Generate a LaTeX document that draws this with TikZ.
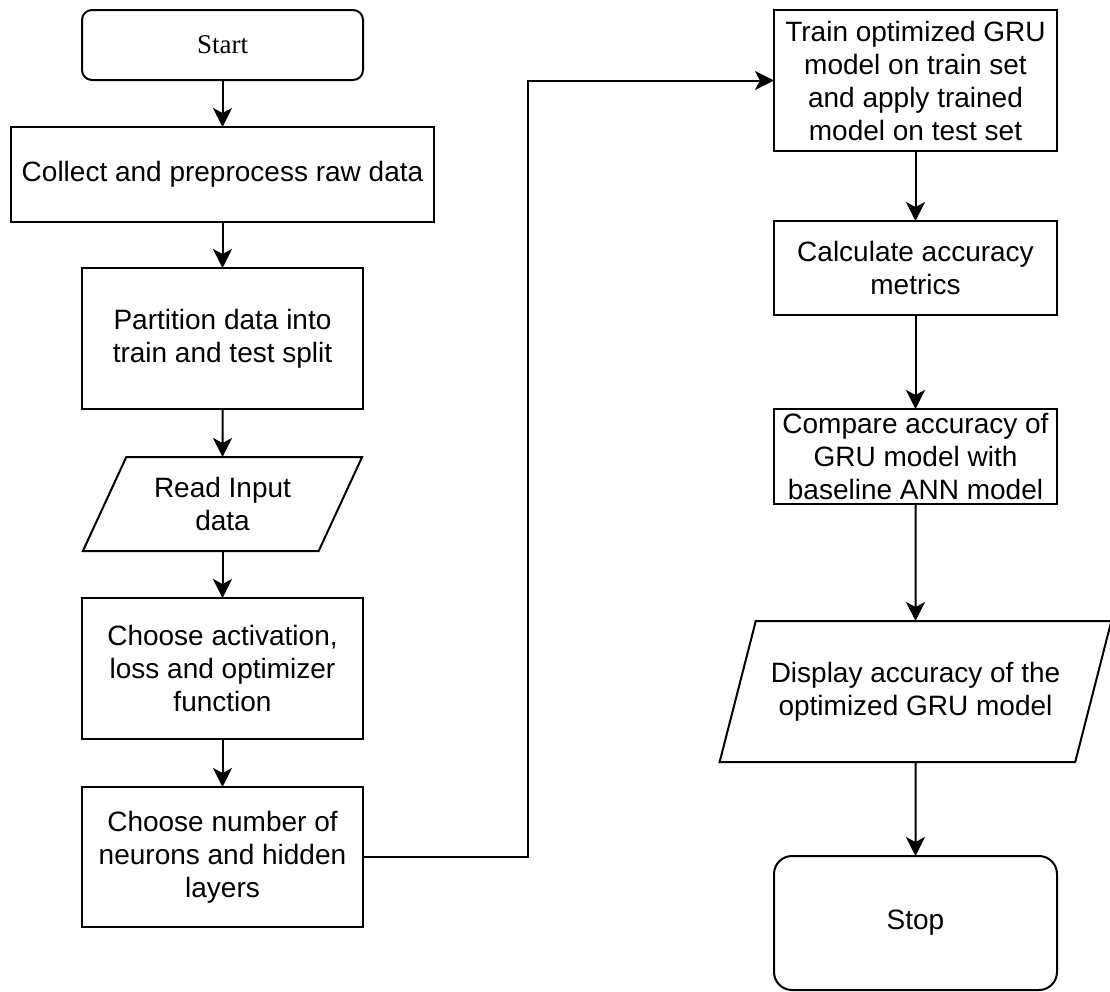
\documentclass[tikz,border=0pt]{standalone}
\usepackage{fontspec}
\setmainfont{Liberation Sans}
\newfontfamily\serifstart{Liberation Serif}
\usetikzlibrary{shapes.geometric, arrows.meta, positioning}

\begin{document}
\begin{tikzpicture}[x=0.5pt, y=-0.5pt,
    box/.style={draw, line width=1pt, align=center, inner sep=0pt, outer sep=0pt,
        font=\fontsize{14}{16.5}\selectfont},
    term/.style={box, rounded corners=5pt},
    io/.style={box, trapezium, trapezium stretches=true,
        trapezium left angle=60, trapezium right angle=120},
    seta/.style={-{Stealth[length=9.5pt, width=9.5pt, inset=2.5pt]}, line width=1pt}]
    \useasboundingbox (0,0) rectangle (1110,992);

    % Coluna esquerda
    \node[term, minimum width=140.5pt, minimum height=35pt,
        font=\fontsize{13.5}{16}\serifstart] (Start) at (222.5,45) {Start};
    \node[box, minimum width=211.5pt, minimum height=47.5pt] (Collect) at (222.5,174.5)
        {Collect and preprocess raw data};
    \node[box, minimum width=140.5pt, minimum height=70.5pt] (Split) at (222.5,338.5)
        {Partition data into\\train and test split};
    \node[io, minimum width=140.5pt, minimum height=47pt] (Input) at (222.5,504)
        {Read Input\\data};
    \node[box, minimum width=140.5pt, minimum height=70.5pt] (Act) at (222.5,668.5)
        {Choose activation,\\loss and optimizer\\function};
    \node[box, minimum width=140.5pt, minimum height=70pt] (Neur) at (222.5,857)
        {Choose number of\\neurons and hidden\\layers};

    % Coluna direita
    \node[box, minimum width=141.5pt, minimum height=70.5pt] (Train) at (915.5,80.5)
        {Train optimized GRU\\model on train set\\and apply trained\\model on test set};
    \node[box, minimum width=141.5pt, minimum height=47pt] (Calc) at (915.5,268)
        {Calculate accuracy\\metrics};
    \node[box, minimum width=141.5pt, minimum height=47.5pt] (Comp) at (915.5,456.5)
        {Compare accuracy of\\GRU model with\\baseline ANN model};
    \node[io, trapezium left angle=61, trapezium right angle=119,
        minimum width=196pt, minimum height=70.5pt] (Disp) at (915.5,691.5)
        {Display accuracy of the\\optimized GRU model};
    \node[term, rounded corners=9pt, minimum width=141.5pt, minimum height=67pt]
        (Stop) at (915.5,923) {Stop};

    % Setas
    \draw[seta] (Start) -- (Collect);
    \draw[seta] (Collect) -- (Split);
    \draw[seta] (Split) -- (Input);
    \draw[seta] (Input) -- (Act);
    \draw[seta] (Act) -- (Neur);
    \draw[seta] (Neur.east) -- ++(165,0) |- (Train.west);
    \draw[seta] (Train) -- (Calc);
    \draw[seta] (Calc) -- (Comp);
    \draw[seta] (Comp) -- (Disp);
    \draw[seta] (Disp) -- (Stop);

\end{tikzpicture}
\end{document}
